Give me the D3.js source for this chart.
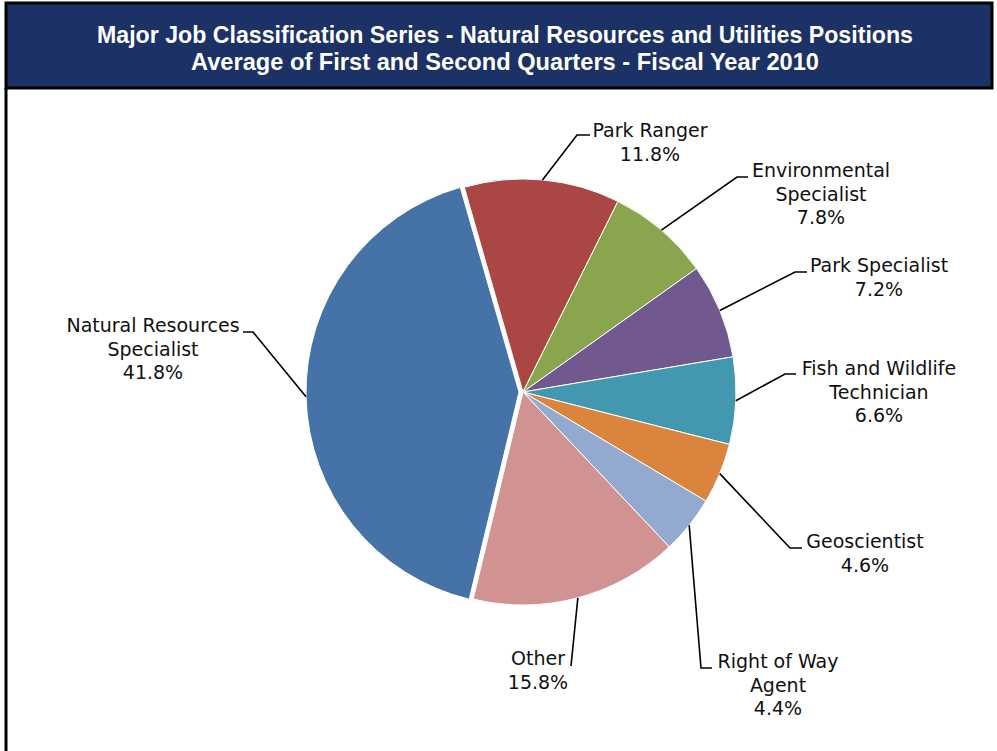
<!DOCTYPE html>
<html>
<head>
<meta charset="utf-8">
<script src="https://cdn.jsdelivr.net/npm/d3@7"></script>
<style>
  html, body { margin: 0; padding: 0; background: #fff; }
  svg { display: block; }
</style>
</head>
<body>
<script>
// ---- data ----
const categories = ["Park Ranger", "Environmental Specialist", "Park Specialist", "Fish and Wildlife Technician", "Geoscientist", "Right of Way Agent", "Other", "Natural Resources Specialist"];
const labelLines = [["Park Ranger"], ["Environmental", "Specialist"], ["Park Specialist"], ["Fish and Wildlife", "Technician"], ["Geoscientist"], ["Right of Way", "Agent"], ["Other"], ["Natural Resources", "Specialist"]];
const values = [11.8, 7.8, 7.2, 6.6, 4.6, 4.4, 15.8, 41.8];
const colors = ["#AA4643", "#89A54E", "#71588F", "#4198AF", "#DB843D", "#93A9CF", "#D19392", "#4572A7"];
const titleLines = ["Major Job Classification Series - Natural Resources and Utilities Positions", "Average of First and Second Quarters - Fiscal Year 2010"];

// ---- layout (positions kept separate from data) ----
const W = 997, H = 751;
const cx = 523, cy = 392, R = 213;
const startDeg = -16;
const explodeIndex = 7, explodePx = 4;
const titleWidths = [816, 628];
// label layout: text centre x, first baseline y, elbow point, line end point
const labelLayout = [
  { tx: 650, ty: 137, elbow: [577, 135], end: [590, 135] },
  { tx: 821, ty: 177, elbow: [737, 177], end: [748, 177] },
  { tx: 879, ty: 272, elbow: [795, 272], end: [807, 272] },
  { tx: 879, ty: 375, elbow: [785, 374], end: [796, 374] },
  { tx: 865, ty: 548, elbow: [790, 548], end: [802, 548] },
  { tx: 778, ty: 668, elbow: [701, 668], end: [712, 668] },
  { tx: 538, ty: 665, elbow: [571, 666], end: [571, 666] },
  { tx: 153, ty: 332, elbow: [253, 332], end: [243, 332] }
];
const lineGap = 23.5;

const svg = d3.select("body").append("svg").attr("width", W).attr("height", H);

// frame + banner
svg.append("rect").attr("x", 0).attr("y", 0).attr("width", W).attr("height", H).attr("fill", "#fff");
svg.append("line").attr("x1", 6).attr("x2", 6).attr("y1", 88).attr("y2", H).attr("stroke", "#000").attr("stroke-width", 3);
svg.append("rect").attr("x", 6).attr("y", 3).attr("width", 986).attr("height", 85)
  .attr("fill", "#1c3166").attr("stroke", "#000").attr("stroke-width", 3);
svg.selectAll("text.title").data(titleLines).join("text")
  .attr("class", "title")
  .attr("x", 505).attr("y", (d, i) => 43 + i * 27)
  .attr("text-anchor", "middle")
  .attr("fill", "#fff")
  .attr("font-family", "'Liberation Sans', Arial, sans-serif")
  .attr("font-weight", "bold")
  .attr("font-size", 23)
  .attr("textLength", (d, i) => titleWidths[i])
  .attr("lengthAdjust", "spacingAndGlyphs")
  .text(d => d);

// pie
const pie = d3.pie().value(d => d).sort(null)
  .startAngle(startDeg * Math.PI / 180)
  .endAngle(startDeg * Math.PI / 180 + 2 * Math.PI);
const arcs = pie(values);
const arc = d3.arc().innerRadius(0).outerRadius(R);
const edgeArc = d3.arc().innerRadius(R).outerRadius(R);

const g = svg.append("g").attr("transform", `translate(${cx},${cy})`);
function offset(d, i) {
  if (i !== explodeIndex) return [0, 0];
  const a = (d.startAngle + d.endAngle) / 2;
  return [explodePx * Math.sin(a), -explodePx * Math.cos(a)];
}
g.selectAll("path.slice").data(arcs).join("path")
  .attr("class", "slice")
  .attr("d", arc)
  .attr("transform", (d, i) => { const o = offset(d, i); return `translate(${o[0]},${o[1]})`; })
  .attr("fill", (d, i) => colors[i])
  .attr("stroke", "#fff")
  .attr("stroke-width", 1);

// leader lines + labels
arcs.forEach((d, i) => {
  const o = offset(d, i);
  const c = edgeArc.centroid(d);
  const p0 = [cx + c[0] + o[0], cy + c[1] + o[1]];
  const L = labelLayout[i];
  svg.append("polyline")
    .attr("points", [p0, L.elbow, L.end].map(p => p.join(",")).join(" "))
    .attr("fill", "none").attr("stroke", "#000").attr("stroke-width", 1.6);
  const t = svg.append("text")
    .attr("x", L.tx).attr("y", L.ty)
    .attr("text-anchor", "middle")
    .attr("fill", "#111")
    .attr("font-family", "'DejaVu Sans', Verdana, sans-serif")
    .attr("font-size", 19);
  const lines = labelLines[i].concat([values[i].toFixed(1) + "%"]);
  lines.forEach((s, k) => {
    t.append("tspan").attr("x", L.tx).attr("y", L.ty + k * lineGap).text(s);
  });
});
</script>
</body>
</html>
